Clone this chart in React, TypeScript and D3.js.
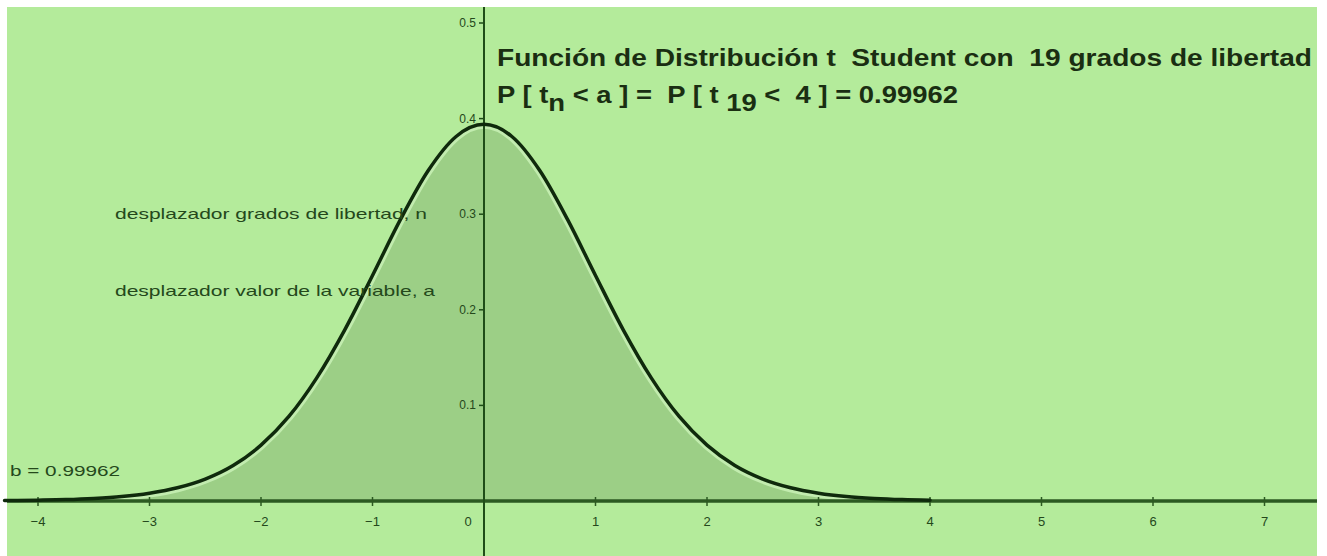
import React, { useEffect } from "react";
import * as d3 from "d3";

// t values (x) and density values
const tValues = [-4.3, -4.25, -4, -3.75, -3.5, -3.25, -3, -2.75, -2.5, -2.25, -2, -1.75, -1.5, -1.25, -1, -0.75, -0.5, -0.25, 0, 0.25, 0.5, 0.75, 1, 1.25, 1.5, 1.75, 2, 2.25, 2.5, 2.75, 3, 3.25, 3.5, 3.75, 4];
const densityValues = [0.00045, 0.0005, 0.0009, 0.0015, 0.0027, 0.0047, 0.0082, 0.0138, 0.0229, 0.0371, 0.0584, 0.0884, 0.1288, 0.1788, 0.2359, 0.2943, 0.3457, 0.3813, 0.394, 0.3813, 0.3457, 0.2943, 0.2359, 0.1788, 0.1288, 0.0884, 0.0584, 0.0371, 0.0229, 0.0138, 0.0082, 0.0047, 0.0027, 0.0015, 0.0009];
const xTicks = [-4, -3, -2, -1, 0, 1, 2, 3, 4, 5, 6, 7];
const yTicks = [0.1, 0.2, 0.3, 0.4, 0.5];
const titleText = "Función de Distribución t  Student con  19 grados de libertad";
const probLabel = "0.99962";
const bLabel = "b = 0.99962";
const sliderLabels = ["desplazador grados de libertad, n", "desplazador valor de la variable, a"];
const sliderLevels = [0.3, 0.22];

const W = 1327;
const H = 556;
const panel = { left: 7, top: 7, right: 1317, bottom: 556 };

export default function App() {
  useEffect(() => {
    document.body.style.margin = "0";
  }, []);

  const x = d3.scaleLinear().domain([0, 1]).range([484, 595.5]);
  const y = d3.scaleLinear().domain([0, 0.5]).range([501, 23]);

  const pts = tValues.map((t, i) => [t, densityValues[i]] as [number, number]);
  const line = d3
    .line<[number, number]>()
    .x((d) => x(d[0]))
    .y((d) => y(d[1]))
    .curve(d3.curveMonotoneX);
  const area = d3
    .area<[number, number]>()
    .x((d) => x(d[0]))
    .y0(y(0))
    .y1((d) => y(d[1]))
    .curve(d3.curveMonotoneX);

  const ax = x(0);
  const ay = y(0);
  const txtCol = "#24481b";
  const pre = { whiteSpace: "pre" as const };

  return (
    <svg width={W} height={H} style={{ position: "absolute", left: 0, top: 0, display: "block" }} fontFamily="'Liberation Sans', Arial, sans-serif">
      <rect x={0} y={0} width={W} height={H} fill="#ffffff" />
      <rect x={panel.left} y={panel.top} width={panel.right - panel.left} height={panel.bottom - panel.top} fill="#b4eb9b" />
      <defs>
        <clipPath id="fillClip">
          <path d={area(pts) || ""} />
        </clipPath>
      </defs>
      {/* shaded probability region */}
      <path d={area(pts) || ""} fill="#9ccf86" />
      <g clipPath="url(#fillClip)">
        <path d={line(pts) || ""} fill="none" stroke="#c2ecaf" strokeWidth={9} />
      </g>
      {/* axes */}
      <line x1={panel.left} x2={panel.right} y1={ay} y2={ay} stroke="#2c5a22" strokeWidth={3.5} />
      <line x1={ax} x2={ax} y1={panel.top} y2={panel.bottom} stroke="#1f4d18" strokeWidth={2} />
      {xTicks.map((t) => (
        <g key={"xt" + t}>
          {t !== 0 && <line x1={x(t)} x2={x(t)} y1={ay - 4} y2={ay + 5} stroke="#2c5a22" strokeWidth={1.5} />}
          <text
            x={t === 0 ? x(t) - 16 : x(t)}
            y={ay + 25}
            fontSize={13}
            textAnchor="middle"
            fill={txtCol}
          >
            {t < 0 ? "\u2212" + Math.abs(t) : String(t)}
          </text>
        </g>
      ))}
      {yTicks.map((v) => (
        <g key={"yt" + v}>
          <line x1={ax - 5} x2={ax} y1={y(v)} y2={y(v)} stroke="#1f4d18" strokeWidth={1.5} />
          <text x={ax - 8} y={y(v) + 4} fontSize={12} textAnchor="end" fill={txtCol}>
            {v.toFixed(1)}
          </text>
        </g>
      ))}
      {/* density curve */}
      <path d={line(pts) || ""} fill="none" stroke="#0f2a0c" strokeWidth={3.5} strokeLinejoin="round" strokeLinecap="round" />
      {/* slider labels */}
      {sliderLabels.map((s, i) => (
        <text key={s} x={115} y={y(sliderLevels[i]) + 5} fontSize={14.5} fill={txtCol} textLength={i === 0 ? 312 : 320} lengthAdjust="spacingAndGlyphs">
          {s}
        </text>
      ))}
      <text x={10} y={476} fontSize={14.5} fill={txtCol} textLength={110} lengthAdjust="spacingAndGlyphs">
        {bLabel}
      </text>
      {/* title */}
      <text x={497} y={66} fontSize={23} fontWeight="bold" fill="#1a2e12" textLength={815} lengthAdjust="spacingAndGlyphs" style={pre}>
        {titleText}
      </text>
      <text x={497} y={103} fontSize={23} fontWeight="bold" fill="#1a2e12" textLength={461} lengthAdjust="spacingAndGlyphs" style={pre}>
        <tspan>{"P [ t"}</tspan>
        <tspan dy={8}>n</tspan>
        <tspan dy={-8}>{" < a ] =  P [ t "}</tspan>
        <tspan dy={8}>19</tspan>
        <tspan dy={-8}>{" <  4 ] = " + probLabel}</tspan>
      </text>
    </svg>
  );
}
